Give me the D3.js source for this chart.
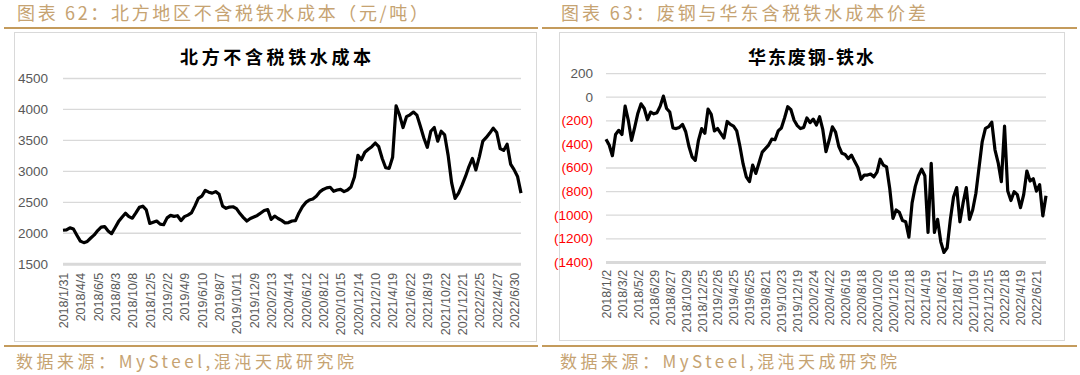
<!DOCTYPE html>
<html>
<head>
<meta charset="utf-8">
<script src="https://cdn.jsdelivr.net/npm/d3@7/dist/d3.min.js"></script>
<style>
	html, body { margin: 0; padding: 0; background: #fff; }
	svg { display: block; }
</style>
</head>
<body>
<div id="chart"></div>
<script>
//////////////////////////////////////////////////
// data: north region pig iron cost ex tax (yuan/t), ~every 8 trading days
//////////////////////////////////////////////////
var costTicks = ['2018/1/31', '2018/4/4', '2018/6/5', '2018/8/3', '2018/10/8', '2018/12/5',
	'2019/2/2', '2019/4/9', '2019/6/10', '2019/8/7', '2019/10/11', '2019/12/9',
	'2020/2/13', '2020/4/14', '2020/6/12', '2020/8/12', '2020/10/15', '2020/12/14',
	'2021/2/10', '2021/4/19', '2021/6/22', '2021/8/19', '2021/10/22', '2021/12/21',
	'2022/2/25', '2022/4/27', '2022/6/30'];

var costYTicks = [1500, 2000, 2500, 3000, 3500, 4000, 4500];

var costValues = [2040, 2045, 2080, 2060, 1960, 1865, 1840, 1860, 1915, 1965,
	2035, 2090, 2100, 2030, 1985, 2080, 2180, 2250, 2315, 2260,
	2235, 2320, 2410, 2430, 2370, 2150, 2170, 2190, 2140, 2130,
	2240, 2280, 2265, 2275, 2195, 2260, 2285, 2320, 2430, 2555,
	2590, 2685, 2655, 2640, 2665, 2620, 2430, 2395, 2415, 2420,
	2390, 2310, 2245, 2190, 2230, 2255, 2280, 2320, 2360, 2375,
	2215, 2270, 2230, 2200, 2160, 2165, 2190, 2195, 2320, 2420,
	2490, 2530, 2545, 2590, 2660, 2700, 2725, 2735, 2670, 2690,
	2700, 2665, 2690, 2740, 2900, 3250, 3180, 3300, 3350, 3390,
	3450, 3390, 3200, 3050, 3040, 3220, 4050, 3900, 3700, 3875,
	3905, 3950, 3900, 3720, 3530, 3380, 3640, 3700, 3480, 3640,
	3580, 3250, 2810, 2555, 2640, 2770, 2910, 3070, 3200, 3015,
	3230, 3480, 3540, 3610, 3690, 3620, 3360, 3330, 3430, 3110,
	3020, 2910, 2640];

//////////////////////////////////////////////////
// data: east china scrap minus pig iron spread, ~every 8 trading days
//////////////////////////////////////////////////
var spreadTicks = ['2018/1/2', '2018/3/2', '2018/5/2', '2018/6/29', '2018/8/27', '2018/10/29',
	'2018/12/25', '2019/2/26', '2019/4/25', '2019/6/25', '2019/8/21', '2019/10/23',
	'2019/12/19', '2020/2/24', '2020/4/22', '2020/6/19', '2020/8/18', '2020/10/20',
	'2020/12/16', '2021/2/18', '2021/4/19', '2021/6/21', '2021/8/17', '2021/10/19',
	'2021/12/15', '2022/2/18', '2022/4/19', '2022/6/21'];

var spreadYTicks = [-1400, -1200, -1000, -800, -600, -400, -200, 0, 200];

var spreadValues = [-360, -410, -500, -320, -285, -320, -80, -200, -370, -260,
	-140, -60, -100, -195, -130, -145, -135, -80, 5, -100,
	-130, -265, -270, -260, -235, -297, -420, -510, -540, -370,
	-270, -310, -105, -150, -290, -270, -310, -350, -210, -235,
	-250, -290, -420, -570, -680, -720, -580, -650, -560, -470,
	-440, -410, -360, -365, -290, -265, -180, -85, -110, -200,
	-245, -270, -260, -180, -220, -190, -240, -170, -280, -466,
	-367, -255, -300, -420, -480, -490, -525, -495, -550, -600,
	-700, -664, -664, -655, -680, -640, -530, -580, -595, -780,
	-1031, -960, -980, -1050, -1060, -1190, -900, -760, -670, -615,
	-670, -1150, -565, -1150, -1040, -1230, -1320, -1280, -1040, -850,
	-770, -1060, -900, -770, -1040, -960, -820, -600, -380, -268,
	-254, -215, -450, -560, -720, -250, -800, -880, -805, -830,
	-940, -830, -630, -715, -695, -800, -745, -1010, -840];

var GOLD_TEXT = '#c6a372',
	GOLD_RULE = '#c49b5c',
	GRID = '#d9d9d9',
	AXIS_TEXT = '#595959',
	CJK = '"Noto Sans CJK SC", "Noto Sans", sans-serif',
	LATIN = '"Liberation Sans", Arial, sans-serif';

var svg = d3.select('#chart')
	.append('svg')
	.attr('width', 1080)
	.attr('height', 375);

//////////////////////////////////////////////////
// one panel: header, frame, title, axes, line, source
//////////////////////////////////////////////////
function drawPanel(cfg) {
	var g = svg.append('g');

	// header + gold rules
	g.append('text')
		.attr('x', cfg.headX)
		.attr('y', 20)
		.attr('textLength', cfg.headLen)
		.attr('lengthAdjust', 'spacing')
		.style('font-family', CJK)
		.style('font-size', '18px')
		.style('fill', GOLD_TEXT)
		.text(cfg.header);

	[28, 346].forEach(function(yy) {
		g.append('line')
			.attr('x1', cfg.ruleX[0])
			.attr('x2', cfg.ruleX[1])
			.attr('y1', yy)
			.attr('y2', yy)
			.style('stroke', GOLD_RULE)
			.style('stroke-width', 2);
	});

	g.append('text')
		.attr('x', cfg.headX - 1)
		.attr('y', 368)
		.attr('textLength', cfg.footLen)
		.attr('lengthAdjust', 'spacing')
		.style('font-family', CJK)
		.style('font-size', '17px')
		.style('fill', GOLD_TEXT)
		.text('数据来源：MySteel,混沌天成研究院');

	// chart frame
	g.append('rect')
		.attr('x', cfg.box[0] + 0.5)
		.attr('y', cfg.box[1] + 0.5)
		.attr('width', cfg.box[2])
		.attr('height', cfg.box[3])
		.style('fill', '#fff')
		.style('stroke', GRID)
		.style('stroke-width', 1);

	g.append('text')
		.attr('x', cfg.titleX)
		.attr('y', 64)
		.attr('textLength', cfg.titleLen)
		.attr('lengthAdjust', 'spacing')
		.style('font-family', CJK)
		.style('font-weight', 'bold')
		.style('font-size', '18px')
		.style('fill', '#000')
		.text(cfg.title);

	// scales
	var x = d3.scaleLinear()
		.domain([0, cfg.values.length - 1])
		.range([cfg.left, cfg.right]);
	var y = d3.scaleLinear()
		.domain(d3.extent(cfg.yTicks))
		.range([cfg.bottom, cfg.top]);
	var yMin = d3.min(cfg.yTicks);

	// y axis with gridlines
	var yAxis = g.append('g')
		.attr('transform', 'translate(' + cfg.left + ',0)')
		.call(d3.axisLeft(y)
			.tickValues(cfg.yTicks)
			.tickSize(-(cfg.right - cfg.left))
			.tickPadding(cfg.yPad)
			.tickFormat(cfg.yFormat));
	yAxis.select('.domain').remove();
	yAxis.selectAll('.tick line')
		.style('stroke', GRID)
		.style('stroke-width', function(d) { return d === yMin ? 3 : 1.3; });
	yAxis.selectAll('.tick text')
		.style('font-family', LATIN)
		.style('font-size', '13.5px')
		.style('fill', function(d) { return d < 0 ? '#ff0000' : AXIS_TEXT; });

	// x axis, rotated category labels
	var xAxis = g.append('g')
		.attr('transform', 'translate(0,' + cfg.bottom + ')')
		.call(d3.axisBottom(x)
			.tickValues(d3.range(cfg.ticks.length).map(function(i) { return i * cfg.step; }))
			.tickFormat(function(d, i) { return cfg.ticks[i]; })
			.tickSize(0));
	xAxis.select('.domain').remove();
	xAxis.selectAll('.tick text')
		.attr('transform', 'rotate(-90)')
		.attr('text-anchor', 'end')
		.attr('x', -cfg.xPad)
		.attr('y', 0)
		.attr('dy', '0.35em')
		.style('font-family', LATIN)
		.style('font-size', '12.5px')
		.style('fill', AXIS_TEXT);

	// series line
	g.append('path')
		.datum(cfg.values)
		.attr('d', d3.line()
			.x(function(d, i) { return x(i); })
			.y(function(d) { return y(d); }))
		.style('fill', 'none')
		.style('stroke', '#000')
		.style('stroke-width', 3.2)
		.style('stroke-linejoin', 'round');
}

drawPanel({
	header: '图表 62：北方地区不含税铁水成本（元/吨）',
	headX: 17, headLen: 411, footLen: 338,
	ruleX: [4, 538],
	box: [14, 32, 522, 309],
	title: '北方不含税铁水成本', titleX: 180, titleLen: 191,
	values: costValues, ticks: costTicks, step: 5,
	yTicks: costYTicks,
	yFormat: function(d) { return d; },
	left: 63, right: 521, top: 78, bottom: 263.7,
	yPad: 15, xPad: 9
});

drawPanel({
	header: '图表 63：废钢与华东含税铁水成本价差',
	headX: 561, headLen: 365, footLen: 337,
	ruleX: [542, 1077],
	box: [559, 32, 505, 308],
	title: '华东废钢-铁水', titleX: 748, titleLen: 126,
	values: spreadValues, ticks: spreadTicks, step: 5,
	yTicks: spreadYTicks,
	yFormat: function(d) { return d < 0 ? '(' + (-d) + ')' : d; },
	left: 606, right: 1046, top: 73.1, bottom: 261.9,
	yPad: 13, xPad: 8
});
</script>
</body>
</html>
